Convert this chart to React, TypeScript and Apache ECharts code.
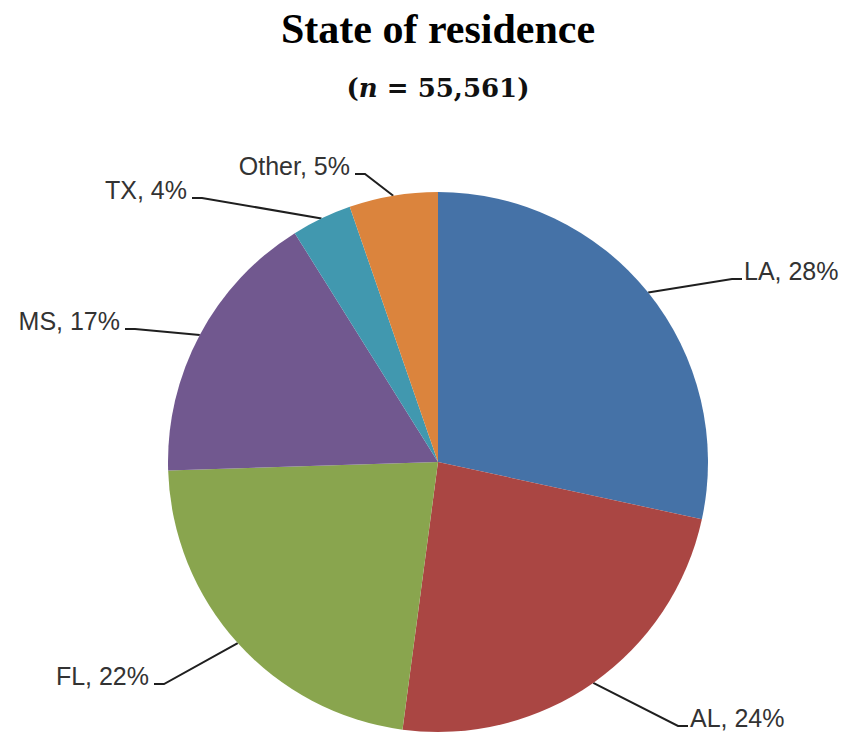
import React, { useEffect, useRef } from "react";
import * as echarts from "echarts";

const categories = ["LA", "AL", "FL", "MS", "TX", "Other"];
const shares = [28.4, 23.7, 22.4, 16.6, 3.6, 5.3];
const colors = ["#4572A7", "#AA4643", "#89A54E", "#71588F", "#4198AF", "#DB843D"];
const titleText = "State of residence";
const sampleSize = "55,561";

// label anchor (x, y = text middle), side of pie
const labelAnchors: { x: number; y: number; side: "left" | "right" }[] = [
  { x: 744, y: 271, side: "right" },
  { x: 690, y: 718, side: "right" },
  { x: 149, y: 676, side: "left" },
  { x: 120, y: 321, side: "left" },
  { x: 187, y: 190, side: "left" },
  { x: 350, y: 166, side: "left" },
];

export default function App() {
  const ref = useRef<HTMLDivElement>(null);
  useEffect(() => {
    document.body.style.margin = "0";
    const chart = echarts.init(ref.current!, null, { renderer: "svg" });
    chart.setOption({
      animation: false,
      backgroundColor: "#ffffff",
      title: [
        {
          text: titleText,
          left: 438,
          top: 8,
          padding: 0,
          textAlign: "center",
          textStyle: {
            fontFamily: "Liberation Serif",
            fontWeight: "bold",
            fontSize: 42,
            color: "#000",
          },
        },
        {
          text: "({i|n} = " + sampleSize + ")",
          left: 438,
          top: 75,
          padding: 0,
          textAlign: "center",
          textStyle: {
            fontFamily: "DejaVu Serif",
            fontWeight: "bold",
            fontSize: 26,
            color: "#111",
            rich: {
              i: {
                fontFamily: "DejaVu Serif",
                fontStyle: "italic",
                fontWeight: "bold",
                fontSize: 26,
                color: "#111",
              },
            },
          },
        },
      ],
      series: [
        {
          type: "pie",
          center: [438, 462],
          radius: 270,
          startAngle: 90,
          clockwise: true,
          silent: true,
          avoidLabelOverlap: false,
          itemStyle: { borderWidth: 0 },
          label: {
            show: true,
            position: "outside",
            fontFamily: "Liberation Sans",
            fontSize: 25,
            color: "#333333",
            formatter: (p: any) => p.name + ", " + Math.round(p.percent) + "%",
          },
          labelLine: {
            show: true,
            length: 20,
            length2: 10,
            lineStyle: { color: "#1f1f1f", width: 2 },
          },
          labelLayout: (params: any) => {
            const a = labelAnchors[params.dataIndex];
            const pts = params.labelLinePoints;
            const start = pts ? pts[0] : [0, 0];
            const ly = a.y + 8;
            const isRight = a.side === "right";
            const endX = isRight ? a.x - 2 : a.x + 5;
            const elbowX = isRight ? a.x - 12 : a.x + 15;
            return {
              x: a.x,
              y: a.y,
              align: isRight ? "left" : "right",
              verticalAlign: "middle",
              labelLinePoints: [start, [elbowX, ly], [endX, ly]],
            };
          },
          data: categories.map((c, i) => ({
            name: c,
            value: shares[i],
            itemStyle: { color: colors[i] },
          })),
        },
      ],
    });
    return () => chart.dispose();
  }, []);
  return <div ref={ref} style={{ width: 849, height: 737 }} />;
}
